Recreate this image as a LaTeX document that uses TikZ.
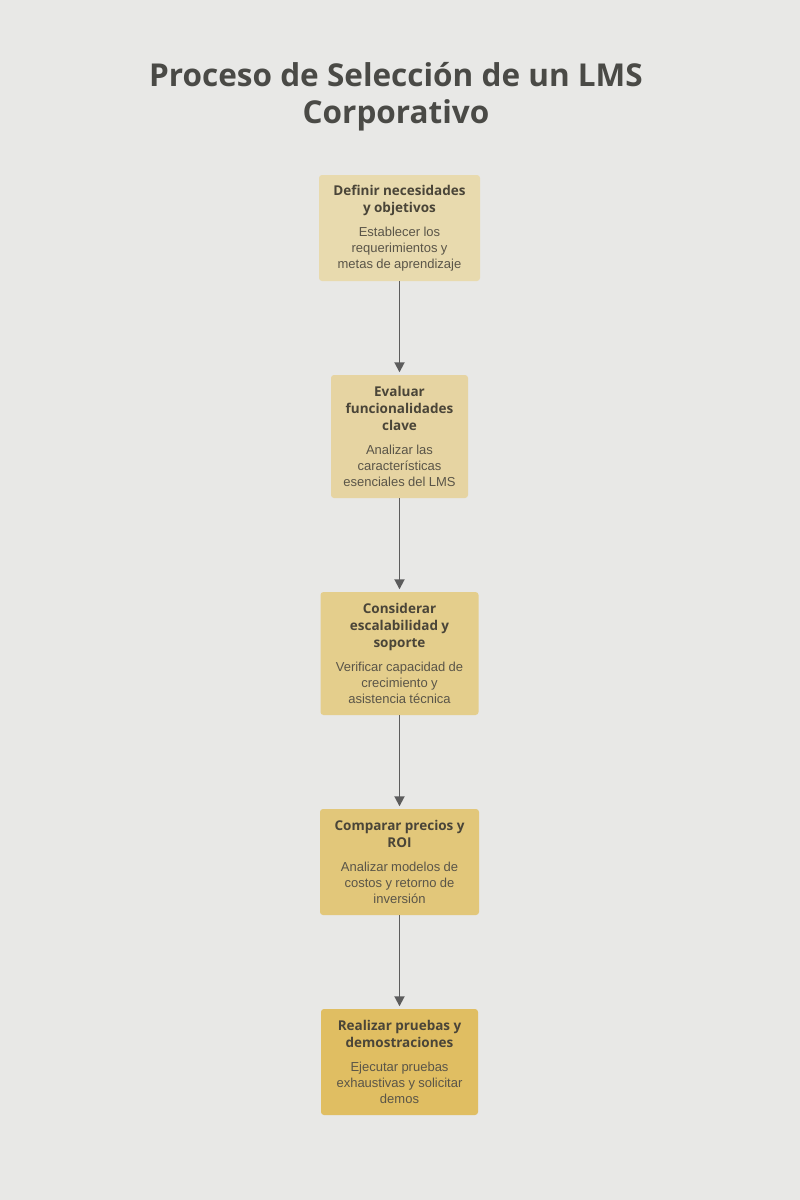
\documentclass[tikz,border=0pt]{standalone}
\usepackage{fontspec}
\setmainfont{Open Sans}
\newfontfamily\bodyfont{Liberation Sans}
\usetikzlibrary{arrows.meta}
\definecolor{bg}{HTML}{E8E8E6}
\definecolor{titlecol}{HTML}{4A4A46}
\definecolor{headcol}{HTML}{4A4538}
\definecolor{bodycol}{HTML}{5A5548}
\definecolor{arrowcol}{HTML}{5C5C5C}
\definecolor{cA}{HTML}{E8DAAE}
\definecolor{cB}{HTML}{E6D4A2}
\definecolor{cC}{HTML}{E4CE8C}
\definecolor{cD}{HTML}{E2C77A}
\definecolor{cE}{HTML}{E0BE62}
\newcommand{\hd}[1]{{\color{headcol}\bfseries\fontsize{13.5}{17}\selectfont #1\par}\vspace{8pt}}
\newcommand{\bd}[1]{{\color{bodycol}\bodyfont\mdseries\fontsize{13}{16}\selectfont #1\par}}
\tikzset{
  stepbox/.style={rounded corners=3pt, inner xsep=4pt, inner ysep=0pt, align=center},
  flow/.style={draw=arrowcol, line width=1.8pt, shorten >=2.5pt, -{Triangle[length=10pt,width=10pt]}},
  maintitle/.style={align=center, text=titlecol, font=\bfseries\fontsize{31.5}{37}\selectfont}
}
\begin{document}
\begin{tikzpicture}[x=1pt,y=-1pt]
\fill[bg] (0,0) rectangle (800,1200);
\useasboundingbox (0,0) rectangle (800,1200);
\node[maintitle] (title) at (396,97) {Proceso de Selección de un LMS\\Corporativo};
\node[stepbox, fill=cA, text width=153pt, minimum height=106pt] (n1) at (399.5,228) {\hd{Definir necesidades\\y objetivos}\bd{Establecer los\\requerimientos y\\metas de aprendizaje}};
\node[stepbox, fill=cB, text width=129pt, minimum height=123pt] (n2) at (399.5,436.5) {\hd{Evaluar\\funcionalidades\\clave}\bd{Analizar las\\características\\esenciales del LMS}};
\node[stepbox, fill=cC, text width=150pt, minimum height=123pt] (n3) at (399.5,653.5) {\hd{Considerar\\escalabilidad y\\soporte}\bd{Verificar capacidad de\\crecimiento y\\asistencia técnica}};
\node[stepbox, fill=cD, text width=151pt, minimum height=106pt] (n4) at (399.5,862) {\hd{Comparar precios y\\ROI}\bd{Analizar modelos de\\costos y retorno de\\inversión}};
\node[stepbox, fill=cE, text width=149pt, minimum height=106pt] (n5) at (399.5,1062) {\hd{Realizar pruebas y\\demostraciones}\bd{Ejecutar pruebas\\exhaustivas y solicitar\\demos}};
\draw[flow] (n1.south) -- (n2.north);
\draw[flow] (n2.south) -- (n3.north);
\draw[flow] (n3.south) -- (n4.north);
\draw[flow] (n4.south) -- (n5.north);
\end{tikzpicture}
\end{document}
